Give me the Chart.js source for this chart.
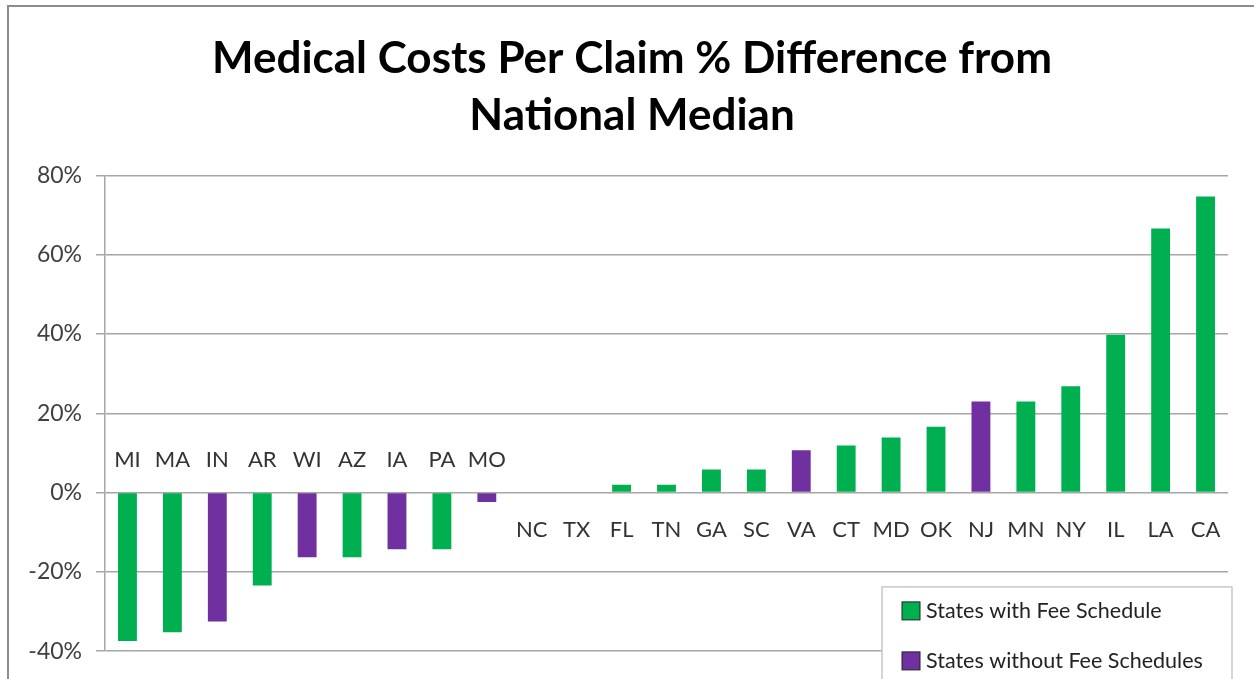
<!DOCTYPE html>
<html>
<head>
<meta charset="utf-8">
<script src="https://cdn.jsdelivr.net/npm/chart.js@4"></script>
<style>
  html, body { margin: 0; padding: 0; background: #fff; overflow: hidden; }
  #wrap { position: relative; width: 1254px; height: 679px; }
  #frame { position: absolute; left: 7px; top: 5px; width: 1300px; height: 720px;
           border-left: 2px solid #8c8c8c; border-top: 2px solid #8c8c8c; }
  #chart { position: absolute; left: 0; top: 0; }
</style>
</head>
<body>
<div id="wrap">
  <div id="frame"></div>
  <canvas id="chart" width="1254" height="679"></canvas>
</div>
<script>
// Data
var states = ['MI', 'MA', 'IN', 'AR', 'WI', 'AZ', 'IA', 'PA', 'MO', 'NC', 'TX', 'FL',
  'TN', 'GA', 'SC', 'VA', 'CT', 'MD', 'OK', 'NJ', 'MN', 'NY', 'IL', 'LA', 'CA'];
var withFeeSchedule = [-37.4, -35.2, null, -23.4, null, -16.3, null, -14.3, null, 0, 0, 2,
  2, 5.8, 5.8, null, 11.9, 13.9, 16.6, null, 23, 26.8, 39.8, 66.6, 74.7];
var withoutFeeSchedule = [null, null, -32.5, null, -16.3, null, -14.3, null, -2.4, null, null, null,
  null, null, null, 10.7, null, null, null, 23, null, null, null, null, null];
var yTicks = [-40, -20, 0, 20, 40, 60, 80];

var greenColor = '#00b050';
var purpleColor = '#7030a0';
var gridColor = '#a6a6a6';
var labelFont = '"Lato", "DejaVu Sans", sans-serif';

// State names sit above the zero line for negative bars, below it otherwise
var stateLabels = {
  id: 'stateLabels',
  afterDatasetsDraw: function(chart) {
    var ctx = chart.ctx;
    var x = chart.scales.x;
    var y = chart.scales.y;
    var zero = y.getPixelForValue(0);
    ctx.save();
    ctx.font = '22px ' + labelFont;
    ctx.fillStyle = '#333333';
    ctx.textAlign = 'center';
    ctx.textBaseline = 'middle';
    states.forEach(function(name, i) {
      var v = withFeeSchedule[i] !== null ? withFeeSchedule[i] : withoutFeeSchedule[i];
      var py = v < 0 ? zero - 33 : zero + 37;
      ctx.fillText(name, x.getPixelForValue(i), py);
    });
    ctx.restore();
  }
};

// Boxed legend in the lower right corner of the plot
var boxLegend = {
  id: 'boxLegend',
  afterDraw: function(chart) {
    var ctx = chart.ctx;
    var area = chart.chartArea;
    var y = chart.scales.y;
    var left = area.right - 346;
    var top = y.getPixelForValue(-20) + 15;
    ctx.save();
    ctx.fillStyle = '#ffffff';
    ctx.fillRect(left, top, 350, 120);
    ctx.strokeStyle = '#c8c8c8';
    ctx.lineWidth = 1.5;
    ctx.strokeRect(left, top, 350, 120);
    ctx.font = '21.5px ' + labelFont;
    ctx.textBaseline = 'middle';
    chart.data.datasets.forEach(function(ds, i) {
      var cy = top + 24 + i * 50;
      ctx.fillStyle = ds.backgroundColor;
      ctx.fillRect(left + 20, cy - 9, 18, 18);
      ctx.strokeStyle = '#222222';
      ctx.lineWidth = 1;
      ctx.strokeRect(left + 20, cy - 9, 18, 18);
      ctx.fillStyle = '#222222';
      ctx.fillText(ds.label, left + 44, cy);
    });
    ctx.restore();
  }
};

var chartCtx = document.getElementById('chart').getContext('2d');
var chart = new Chart(chartCtx, {
  type: 'bar',
  data: {
    labels: states,
    datasets: [{
      label: 'States with Fee Schedule',
      data: withFeeSchedule,
      yAxisID: 'y',
      backgroundColor: greenColor,
      categoryPercentage: 1,
      barPercentage: 0.42
    }, {
      label: 'States without Fee Schedules',
      data: withoutFeeSchedule,
      yAxisID: 'y',
      backgroundColor: purpleColor,
      categoryPercentage: 1,
      barPercentage: 0.42
    }]
  },
  options: {
    responsive: false,
    animation: false,
    layout: {
      padding: { left: 10, right: 0, top: 0, bottom: 26 }
    },
    scales: {
      x: {
        display: false,
        stacked: true
      },
      y: {
        stacked: true,
        min: -40,
        max: 80,
        afterBuildTicks: function(scale) {
          scale.ticks = yTicks.map(function(v) { return { value: v }; });
        },
        afterFit: function(scale) {
          scale.width = 95;
        },
        grid: {
          color: gridColor,
          lineWidth: 1.5,
          tickLength: 9
        },
        border: {
          color: gridColor,
          width: 1.5
        },
        ticks: {
          padding: 14,
          color: '#404040',
          font: { family: labelFont, size: 23 },
          callback: function(value) { return value + '%'; }
        }
      },
      // empty spacer on the right so the plot ends where the original does
      spacer: {
        position: 'right',
        min: -40,
        max: 80,
        afterFit: function(scale) {
          scale.width = 26;
        },
        grid: { display: false },
        border: { display: false },
        ticks: { display: false }
      }
    },
    plugins: {
      legend: { display: false },
      tooltip: { enabled: false },
      title: {
        display: true,
        text: ['Medical Costs Per Claim % Difference from', 'National Median'],
        color: '#000000',
        font: { family: labelFont, size: 44, weight: 'bold', lineHeight: 1.3 },
        padding: { top: 30, bottom: 31 }
      }
    }
  },
  plugins: [stateLabels, boxLegend]
});
</script>
</body>
</html>
